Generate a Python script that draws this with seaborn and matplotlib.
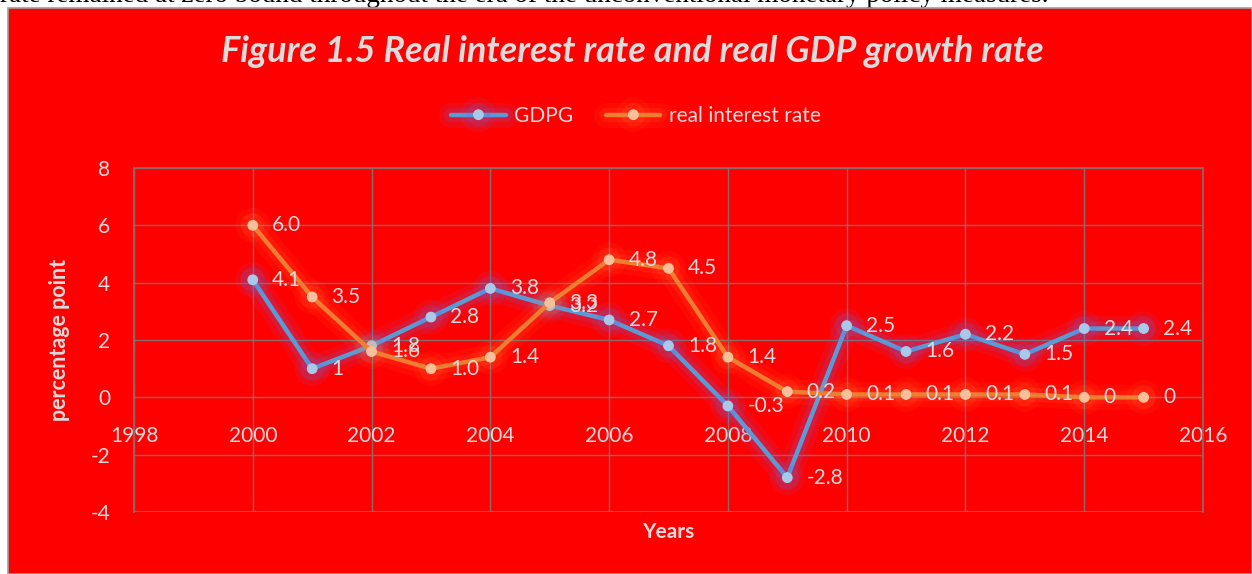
import matplotlib
matplotlib.use("Agg")
import matplotlib.pyplot as plt
import matplotlib.patheffects as pe
from matplotlib.patches import Rectangle
import seaborn as sns
import pandas as pd

years = [2000, 2001, 2002, 2003, 2004, 2005, 2006, 2007, 2008, 2009, 2010, 2011, 2012, 2013, 2014, 2015]
gdpg = [4.1, 1.0, 1.8, 2.8, 3.8, 3.2, 2.7, 1.8, -0.3, -2.8, 2.5, 1.6, 2.2, 1.5, 2.4, 2.4]
gdpg_labels = ["4.1", "1", "1.8", "2.8", "3.8", "3.2", "2.7", "1.8", "-0.3", "-2.8", "2.5", "1.6", "2.2", "1.5", "2.4", "2.4"]
rate = [6.0, 3.5, 1.6, 1.0, 1.4, 3.3, 4.8, 4.5, 1.4, 0.2, 0.1, 0.1, 0.1, 0.1, 0.0, 0.0]
rate_labels = ["6.0", "3.5", "1.6", "1.0", "1.4", "3.3", "4.8", "4.5", "1.4", "0.2", "0.1", "0.1", "0.1", "0.1", "0", "0"]
x_ticks = [1998, 2000, 2002, 2004, 2006, 2008, 2010, 2012, 2014, 2016]
y_ticks = [-4, -2, 0, 2, 4, 6, 8]

sns.set_theme(style="white")
plt.rcParams['font.family'] = ['Lato', 'DejaVu Sans']
plt.rcParams['axes.unicode_minus'] = False

W, H = 1252, 574
fig = plt.figure(figsize=(W / 100, H / 100), dpi=100)
fig.patch.set_facecolor("white")

bg = Rectangle((8 / W, 0), 1 - 8 / W, 1 - 8 / H, transform=fig.transFigure,
               facecolor="#ff0000", edgecolor="#a0a0a0", linewidth=1.2, zorder=-10)
fig.patches.append(bg)
fig.text(0.0, 1 - 1.5 / H, "rate remained at zero bound throughout the era of the unconventional monetary policy measures.",
         family="Liberation Serif", fontsize=19.5, color="black", va="baseline", ha="left", zorder=-20)

ax = fig.add_axes([134 / W, 1 - 512 / H, (1203 - 134) / W, (512 - 168) / H])
ax.set_facecolor("none")
ax.set_zorder(5)

TXT = "#dcdcdc"
GRID = "#8a6a6a"

df = pd.DataFrame({"year": years, "GDPG": gdpg, "real interest rate": rate})

series = [("GDPG", "#5b9bd5", "#a9c9ea", "#6a6ae0", 0.10, 0.16),
          ("real interest rate", "#ed7d31", "#f8c09a", "#ff9a40", 0.06, 0.10)]
for name, col, mfc, glow, a1, a2 in series:
    sns.lineplot(data=df, x="year", y=name, ax=ax, color=col, linewidth=3.2, marker="o",
                 markersize=7, markerfacecolor=mfc, markeredgecolor=mfc, label=name, zorder=5,
                 path_effects=[pe.Stroke(linewidth=18, foreground=glow, alpha=a1),
                               pe.Stroke(linewidth=10, foreground=glow, alpha=a2),
                               pe.Normal()])

for labels, vals in ((gdpg_labels, gdpg), (rate_labels, rate)):
    for xx, yy, lab in zip(years, vals, labels):
        ax.annotate(lab, (xx, yy), xytext=(14, 0), textcoords="offset points",
                    ha="left", va="center", fontsize=15, color=TXT, zorder=6)

ax.set_xlim(1998, 2016)
ax.set_ylim(-4, 8)
ax.set_xticks(x_ticks)
ax.set_yticks(y_ticks)
ax.grid(True, color=GRID, linewidth=1)
for s in ["top", "right", "left"]:
    ax.spines[s].set_color(GRID)
ax.spines["bottom"].set_position(("data", 0))
ax.spines["bottom"].set_visible(False)
ax.axhline(-4, color=GRID, linewidth=1.5, zorder=1)
ax.tick_params(axis="x", length=0, pad=21, labelsize=15, labelcolor=TXT)
ax.tick_params(axis="y", length=0, pad=17, labelsize=15, labelcolor=TXT)

ax.set_xlabel("")
ax.set_ylabel("")
fig.text(668 / W, 1 - 532 / H, "Years", ha="center", va="center", fontsize=15,
         fontweight="bold", color=TXT)
fig.text(60 / W, 1 - 340 / H, "percentage point", ha="center", va="center", rotation=90,
         fontsize=15.5, fontweight="bold", color=TXT)

fig.text(632 / W, 1 - 52 / H, "Figure 1.5 Real interest rate and real GDP growth rate",
         ha="center", va="center", fontsize=26, fontweight="bold", fontstyle="italic", color=TXT)

leg = ax.legend(loc="center", bbox_to_anchor=(636 / W, 1 - 116 / H), bbox_transform=fig.transFigure,
                ncol=2, frameon=False, fontsize=15, handlelength=2.6, columnspacing=1.6, handletextpad=0.4)
for t in leg.get_texts():
    t.set_color(TXT)

fig.savefig("out.png", dpi=100, facecolor=fig.get_facecolor())
